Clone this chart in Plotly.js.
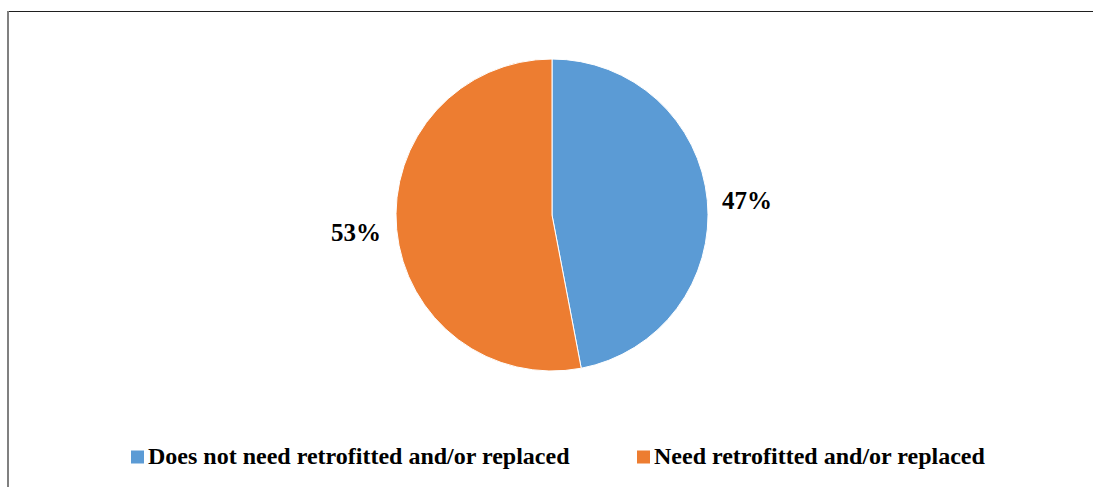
<!DOCTYPE html>
<html>
<head>
<meta charset="utf-8">
<script src="https://cdn.plot.ly/plotly-3.0.1.min.js"></script>
<style>
  html, body { margin: 0; padding: 0; background: #ffffff; }
  #chart { width: 1093px; height: 487px; }
</style>
</head>
<body>
<div id="chart"></div>
<script>
// Condition of the surveyed elements
const categories = ['Does not need retrofitted and/or replaced', 'Need retrofitted and/or replaced'];
const shares = [47, 53];
const sliceColors = ['#5B9BD5', '#ED7D31'];

const total = shares.reduce((a, b) => a + b, 0);
const pctText = shares.map(v => Math.round(v / total * 100) + '%');

const FONT = '"Liberation Serif", "Times New Roman", serif';
const W = 1093, H = 487;
const px = x => x / W;          // pixel -> paper x
const py = y => 1 - y / H;      // pixel -> paper y

const trace = {
  type: 'pie',
  labels: categories,
  values: shares,
  sort: false,
  direction: 'clockwise',
  rotation: 0,
  textinfo: 'none',
  hoverinfo: 'label+percent',
  showlegend: false,
  marker: { colors: sliceColors, line: { color: '#ffffff', width: 1 } },
  domain: { x: [px(396), px(708)], y: [py(371), py(59)] }
};

// percentage labels placed beside each slice
const labelPos = [
  { x: px(747), y: py(200) },
  { x: px(356), y: py(233) }
];
const annotations = pctText.map((t, i) => ({
  text: '<b>' + t + '</b>',
  x: labelPos[i].x, y: labelPos[i].y,
  xref: 'paper', yref: 'paper',
  xanchor: 'center', yanchor: 'middle',
  showarrow: false,
  font: { family: FONT, size: 25, color: '#000000' }
}));

// legend row below the pie: coloured key square followed by the category name
const keyLeft = [131, 637];
categories.forEach((name, i) => {
  annotations.push({
    text: '<b>' + name + '</b>',
    x: px(keyLeft[i] + 15), y: py(456),
    xref: 'paper', yref: 'paper',
    xanchor: 'left', yanchor: 'middle',
    showarrow: false,
    font: { family: FONT, size: 24, color: '#000000' }
  });
});

const shapes = [
  { type: 'line', xref: 'paper', yref: 'paper', x0: px(7), x1: 1, y0: py(11.5), y1: py(11.5),
    line: { color: '#1f1f1f', width: 1 } },
  { type: 'line', xref: 'paper', yref: 'paper', x0: px(8), x1: px(8), y0: 0, y1: py(11),
    line: { color: '#808080', width: 2 } }
];
keyLeft.forEach((x0, i) => {
  shapes.push({
    type: 'rect', xref: 'paper', yref: 'paper',
    x0: px(x0), x1: px(x0 + 13), y0: py(463.5), y1: py(450.5),
    fillcolor: sliceColors[i], line: { width: 0 }
  });
});

const layout = {
  width: W,
  height: H,
  margin: { l: 0, r: 0, t: 0, b: 0 },
  paper_bgcolor: '#ffffff',
  plot_bgcolor: '#ffffff',
  showlegend: false,
  annotations: annotations,
  shapes: shapes
};

Plotly.newPlot('chart', [trace], layout, { displayModeBar: false, staticPlot: true });
</script>
</body>
</html>
